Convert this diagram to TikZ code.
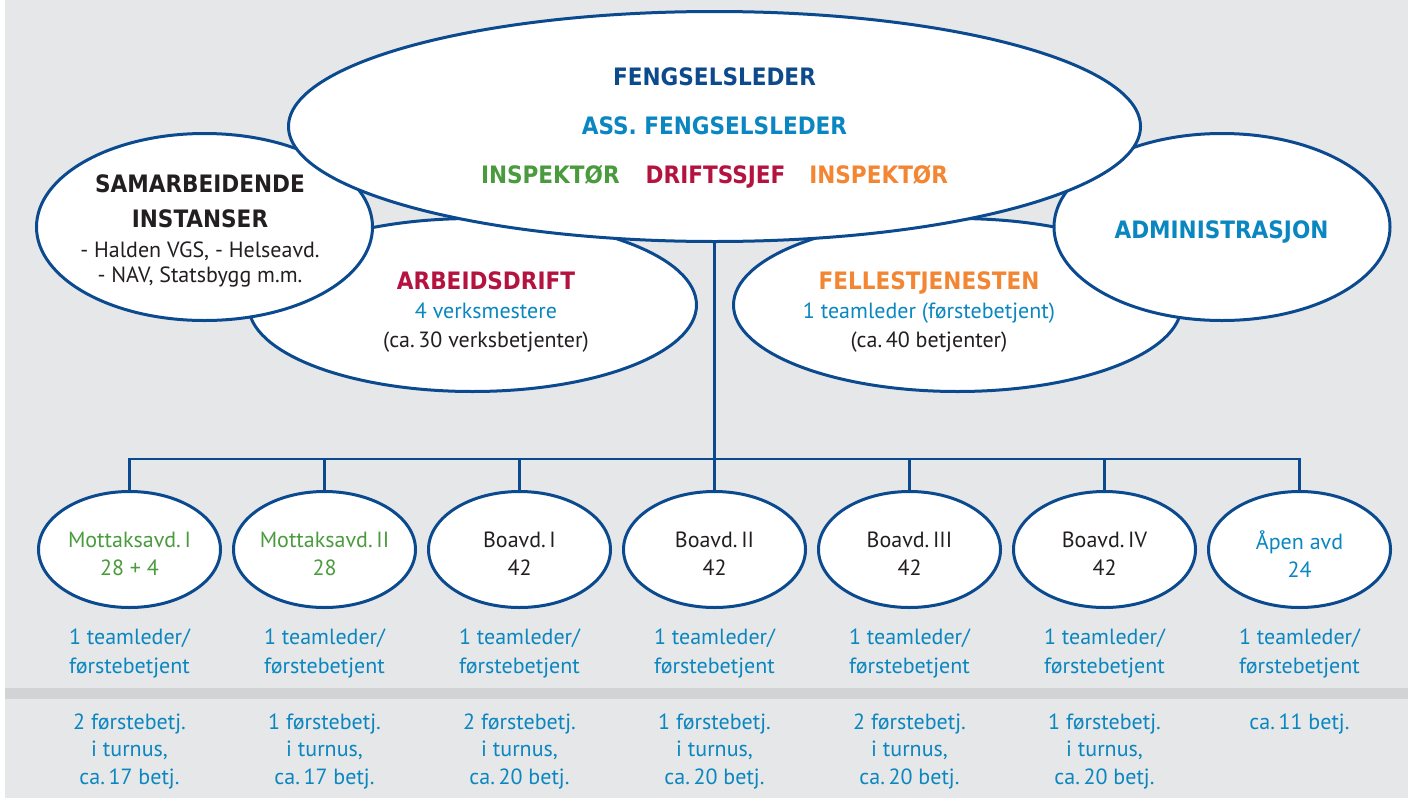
\documentclass[tikz,border=0pt]{standalone}
\usepackage{fontspec}
\setmainfont{PT Sans}
\newfontfamily\overskrift{DejaVu Sans Condensed Bold}
\usetikzlibrary{shapes.geometric}
\definecolor{ramme}{HTML}{0B4A8F}
\definecolor{morkbla}{HTML}{0D4A8C}
\definecolor{lysbla}{HTML}{0A86C0}
\definecolor{grnt}{HTML}{4A9B3D}
\definecolor{vinrod}{HTML}{B4123F}
\definecolor{oransje}{HTML}{F28633}
\definecolor{svart}{HTML}{231F20}
\definecolor{bakgrunn}{HTML}{E6E7E8}
\definecolor{skille}{HTML}{D1D3D4}
\newcommand\tittel[1]{{\overskrift\fontsize{12}{12}\selectfont #1}}
\tikzset{%
boble/.style={ellipse,draw=ramme,line width=1.5pt,fill=white,inner sep=0pt},
stor/.style={boble,minimum width=426pt,minimum height=115pt},
side/.style={boble,minimum width=168pt,minimum height=93.5pt},
midt/.style={boble,minimum width=224pt,minimum height=86.5pt},
avd/.style={boble,minimum width=91pt,minimum height=58pt},
tekst/.style={align=center,inner sep=0pt,text=svart,font=\fontsize{11}{14.5}\selectfont},
linje/.style={draw=ramme,line width=1.2pt}
}

\begin{document}
\begin{tikzpicture}[x=0.5pt,y=-0.5pt]
\useasboundingbox (0,0) rectangle (1408,798);
\fill[white] (0,0) rectangle (1408,798);
\fill[bakgrunn] (5,0) rectangle (1408,798);
\fill[skille] (5,688) rectangle (1408,699);

% the big bubbles, back to front
\node[midt] (arbeid) at (472.5,305) {};
\node[midt] (felles) at (957.5,305) {};
\node[side] (samarb) at (204.5,227) {};
\node[side] (admin) at (1222,227) {};
\node[stor] (leder) at (714.5,126.5) {};

\node[tekst,font=\overskrift\fontsize{12}{24.5}\selectfont] (ledertekst) at (714.5,128)
  {{\color{morkbla}FENGSELSLEDER}\\
   {\color{lysbla}ASS. FENGSELSLEDER}\\
   {\color{grnt}INSPEKTØR}\hspace{13pt}{\color{vinrod}DRIFTSSJEF}\hspace{12pt}{\color{oransje}INSPEKTØR}};
\node[tekst,font=\fontsize{11}{12.5}\selectfont] (samarbtekst) at (200,231)
  {\tittel{SAMARBEIDENDE}\\[5pt]\tittel{INSTANSER}\\[2.5pt]
   - Halden VGS, - Helseavd.\\- NAV, Statsbygg m.m.};
\node[tekst] (arbeidtekst) at (486,312.5)
  {\tittel{\color{vinrod}ARBEIDSDRIFT}\\{\color{lysbla}4 verksmestere}\\(ca.\,30 verksbetjenter)};
\node[tekst] (fellestekst) at (929,312.5)
  {\tittel{\color{oransje}FELLESTJENESTEN}\\{\color{lysbla}1 teamleder (førstebetjent)}\\(ca.\,40 betjenter)};
\node[tekst,text=lysbla] (admintekst) at (1221.5,232) {\tittel{ADMINISTRASJON}};

% units
\coordinate (buss) at (714.5,459);
\draw[linje] (leder.south) -- (buss);
\foreach \k/\avd/\ant/\farge/\skift in
  {1/Mottaksavd.\,I/28 + 4/grnt/{2 førstebetj.\\i turnus,\\ca.\,17 betj.},
   2/Mottaksavd.\,II/28/grnt/{1 førstebetj.\\i turnus,\\ca.\,17 betj.},
   3/Boavd.\,I/42/svart/{2 førstebetj.\\i turnus,\\ca.\,20 betj.},
   4/Boavd.\,II/42/svart/{1 førstebetj.\\i turnus,\\ca.\,20 betj.},
   5/Boavd.\,III/42/svart/{2 førstebetj.\\i turnus,\\ca.\,20 betj.},
   6/Boavd.\,IV/42/svart/{1 førstebetj.\\i turnus,\\ca.\,20 betj.},
   7/Åpen avd/24/lysbla/{ca.\,11 betj.}}
{
  \pgfmathparse{129.5+195*(\k-1)}\let\xk\pgfmathresult
  \node[avd] (avd\k) at (\xk,549.5) {};
  \node[tekst,text=\farge,font=\fontsize{11}{14}\selectfont] (navn\k) at (\xk,554) {\avd\\\ant};
  \draw[linje] (avd\k.north) |- (buss);
  \node[tekst,text=lysbla,anchor=north] (team\k) at (\xk,628) {1 teamleder/\\førstebetjent};
  \node[tekst,text=lysbla,anchor=north,font=\fontsize{11}{13.75}\selectfont] (turnus\k) at (\xk,713) {\skift};
}
\end{tikzpicture}
\end{document}
